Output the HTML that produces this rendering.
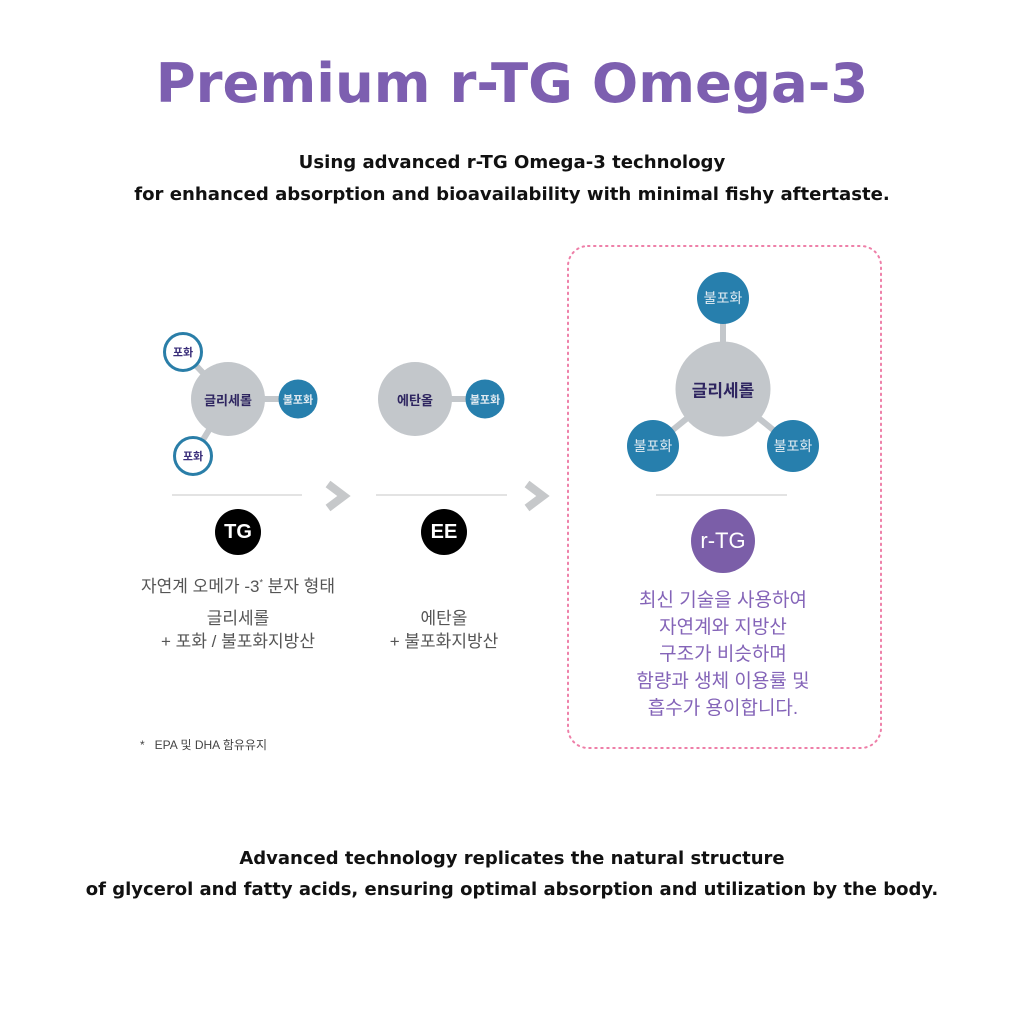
<!DOCTYPE html><html><head><meta charset="utf-8"><style>
body{margin:0;width:1024px;height:1024px;background:#fff;position:relative;overflow:hidden;font-family:"Liberation Sans","Noto Sans CJK KR",sans-serif}
.a{position:absolute}
.c{position:absolute;border-radius:50%;display:flex;align-items:center;justify-content:center;transform:translate(-50%,-50%);font-weight:bold}
.t{position:absolute;transform:translateX(-50%);white-space:nowrap;text-align:center}
.e{font-family:"DejaVu Sans","Liberation Sans",sans-serif}
.ln{position:absolute;height:2px;background:#e3e3e3}
</style></head><body>
<div class="t e" style="left:512px;top:51px;font-size:54.5px;font-weight:bold;color:#7d5fb0">Premium r-TG Omega-3</div>
<div class="t e" style="left:512px;top:147px;font-size:18.1px;font-weight:bold;color:#111;line-height:32px">Using advanced r-TG Omega-3 technology<br>for enhanced absorption and bioavailability with minimal fishy aftertaste.</div>

<svg class="a" style="left:0;top:0" width="1024" height="1024">
<g stroke="#c3c7cb" stroke-width="6">
<line x1="183" y1="352" x2="228" y2="399"/><line x1="193" y1="456" x2="228" y2="399"/><line x1="228" y1="399" x2="298" y2="399"/>
<line x1="415" y1="399" x2="485" y2="399"/>
<line x1="723" y1="298" x2="723" y2="389"/><line x1="653" y1="446" x2="723" y2="389"/><line x1="793" y1="446" x2="723" y2="389"/>
</g>
<g fill="none" stroke="#c6c8ca" stroke-width="8"><polyline points="328,484 344,496 328,508"/><polyline points="527,484 543,496 527,508"/></g>
<rect x="568" y="246" width="313" height="502" rx="20" fill="none" stroke="#ee7fa8" stroke-width="2" stroke-dasharray="1.5,4.5" stroke-linecap="round"/>
</svg>

<div class="c" style="left:183px;top:352px;width:34px;height:34px;border:3px solid #2a7ea8;background:#fff;color:#3a2e7a;font-size:11px">포화</div>
<div class="c" style="left:193px;top:456px;width:34px;height:34px;border:3px solid #2a7ea8;background:#fff;color:#3a2e7a;font-size:11px">포화</div>
<div class="c" style="left:228px;top:399px;width:74px;height:74px;background:#c3c7cb;color:#2e2560;font-size:13px">글리세롤</div>
<div class="c" style="left:298px;top:399px;width:39px;height:39px;background:#277fad;color:#dfe9f0;font-size:11px">불포화</div>
<div class="c" style="left:415px;top:399px;width:74px;height:74px;background:#c3c7cb;color:#2e2560;font-size:13px">에탄올</div>
<div class="c" style="left:485px;top:399px;width:39px;height:39px;background:#277fad;color:#dfe9f0;font-size:11px">불포화</div>

<div class="ln" style="left:172px;top:494px;width:130px"></div>
<div class="ln" style="left:376px;top:494px;width:131px"></div>
<div class="ln" style="left:656px;top:494px;width:131px"></div>

<div class="c" style="left:238px;top:532px;width:46px;height:46px;background:#000;color:#fff;font-size:20px">TG</div>
<div class="c" style="left:444px;top:532px;width:46px;height:46px;background:#000;color:#fff;font-size:20px">EE</div>

<div class="t" style="left:238px;top:572px;font-size:17px;color:#555">자연계 오메가 -3<sup style="font-size:9px">*</sup> 분자 형태</div>
<div class="t" style="left:238px;top:607px;font-size:17px;color:#555;line-height:23px">글리세롤<br>+ 포화 / 불포화지방산</div>
<div class="t" style="left:444px;top:607px;font-size:17px;color:#555;line-height:23px">에탄올<br>+ 불포화지방산</div>
<div class="a" style="left:140px;top:736px;font-size:12px;color:#444">*&nbsp;&nbsp; EPA 및 DHA 함유유지</div>

<div class="c" style="left:723px;top:298px;width:52px;height:52px;background:#277fad;color:#e4edf3;font-size:14px;font-weight:normal">불포화</div>
<div class="c" style="left:723px;top:389px;width:95px;height:95px;background:#c3c7cb;color:#2e2560;font-size:17px">글리세롤</div>
<div class="c" style="left:653px;top:446px;width:52px;height:52px;background:#277fad;color:#e4edf3;font-size:14px;font-weight:normal">불포화</div>
<div class="c" style="left:793px;top:446px;width:52px;height:52px;background:#277fad;color:#e4edf3;font-size:14px;font-weight:normal">불포화</div>
<div class="c" style="left:723px;top:541px;width:64px;height:64px;background:#7b5ea8;color:#fff;font-size:22px;font-weight:normal">r-TG</div>
<div class="t" style="left:723px;top:587px;font-size:19px;color:#8464b8;line-height:27px">최신 기술을 사용하여<br>자연계와 지방산<br>구조가 비슷하며<br>함량과 생체 이용률 및<br>흡수가 용이합니다.</div>

<div class="t e" style="left:512px;top:843px;font-size:18px;font-weight:bold;color:#111;line-height:31px">Advanced technology replicates the natural structure<br>of glycerol and fatty acids, ensuring optimal absorption and utilization by the body.</div>
</body></html>
